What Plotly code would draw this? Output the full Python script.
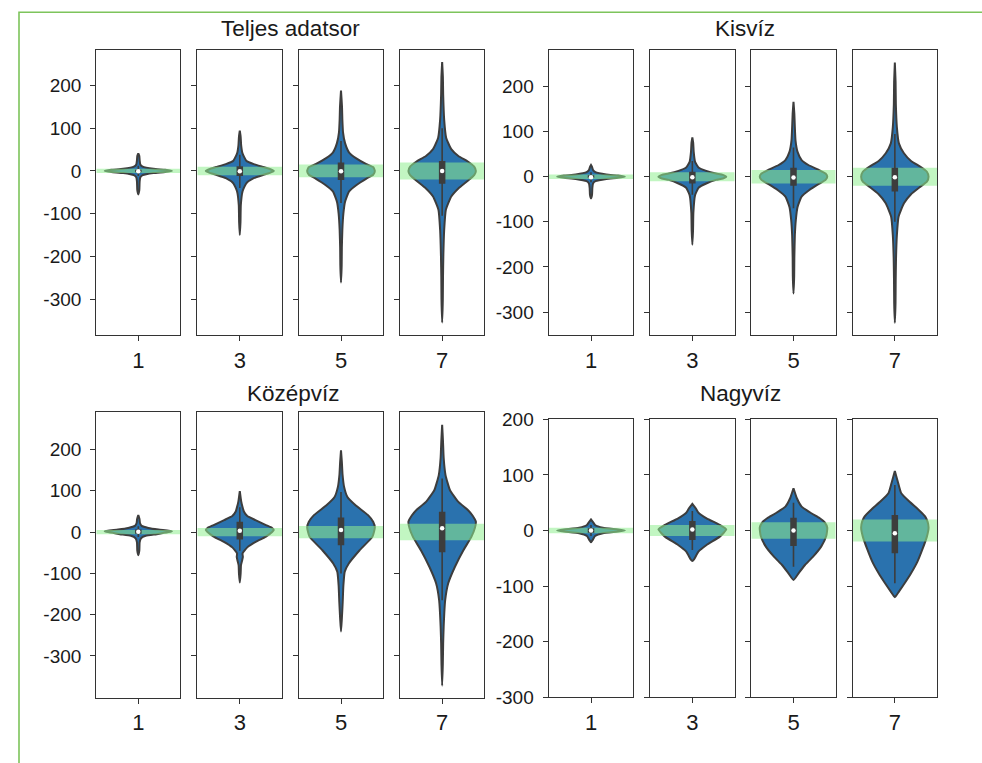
import plotly.graph_objects as go

# ---------------- data ----------------
horizons = [1, 3, 5, 7]
panel_titles = ["Teljes adatsor", "Kisvíz", "Középvíz", "Nagyvíz"]
band_half = [5, 10, 15, 20]          # half width of the green band per horizon
y_tickvals = [-300, -200, -100, 0, 100, 200]
y_ticktext = ["-300", "-200", "-100", "0", "100", "200"]

# violin profiles: y levels and relative half-widths (density), one list per horizon
teljes_y = [
    [-55, -45, -25, -15, -10, -5, -2.5, 0, 2.5, 5, 10, 15, 25, 35, 41],
    [-150, -120, -80, -48, -29, -17, -9, -4, 0, 4, 9, 16, 24, 41, 60, 80, 94],
    [-261, -220, -180, -138, -100, -72, -48, -33, -18, -9, 0, 9, 16, 30, 43, 65, 90, 120, 150, 188],
    [-355, -300, -250, -200, -138, -91, -60, -41, -23, -10, 0, 10, 22, 35, 51, 77, 120, 180, 220, 255],
]
teljes_w = [
    [0, 0.03, 0.04, 0.06, 0.13, 0.45, 0.8, 1.0, 0.8, 0.45, 0.13, 0.06, 0.04, 0.03, 0],
    [0, 0.02, 0.03, 0.08, 0.19, 0.41, 0.7, 0.9, 1.0, 0.9, 0.7, 0.41, 0.19, 0.08, 0.04, 0.025, 0],
    [0, 0.02, 0.025, 0.04, 0.07, 0.12, 0.24, 0.46, 0.75, 0.95, 1.0, 0.95, 0.75, 0.44, 0.24, 0.12, 0.06, 0.04, 0.03, 0],
    [0, 0.02, 0.025, 0.035, 0.06, 0.11, 0.27, 0.48, 0.76, 0.95, 1.0, 0.95, 0.76, 0.48, 0.27, 0.12, 0.06, 0.03, 0.022, 0],
]
teljes_box = [  # whisker low, q1, median, q3, whisker high
    [-12, -3, -1, 3, 12],
    [-40, -12, -1, 11, 38],
    [-75, -21, -1, 20, 70],
    [-105, -30, 0, 23, 100],
]

kisviz_y = [
    [-48, -40, -25, -15, -10, -5, -2.5, 0, 2.5, 5, 10, 15, 22, 26],
    [-151, -120, -80, -41, -24, -15, -7, -4, 0, 4, 7, 13, 20, 33, 55, 75, 87],
    [-259, -220, -180, -130, -95, -67, -44, -30, -16, -7, 0, 7, 15, 26, 37, 55, 80, 110, 140, 166],
    [-324, -280, -230, -180, -130, -89, -59, -39, -22, -11, 0, 11, 22, 35, 52, 74, 110, 160, 210, 253],
]
kisviz_w = [
    [0, 0.03, 0.04, 0.06, 0.13, 0.45, 0.8, 1.0, 0.8, 0.45, 0.13, 0.06, 0.03, 0],
    [0, 0.02, 0.03, 0.08, 0.19, 0.41, 0.7, 0.9, 1.0, 0.9, 0.7, 0.41, 0.19, 0.08, 0.04, 0.025, 0],
    [0, 0.02, 0.025, 0.04, 0.07, 0.12, 0.24, 0.46, 0.75, 0.95, 1.0, 0.95, 0.75, 0.44, 0.24, 0.12, 0.06, 0.04, 0.025, 0],
    [0, 0.02, 0.025, 0.035, 0.06, 0.11, 0.27, 0.48, 0.76, 0.95, 1.0, 0.95, 0.76, 0.48, 0.27, 0.12, 0.06, 0.03, 0.022, 0],
]
kisviz_box = [
    [-12, -3, -1, 3, 10],
    [-40, -15, -1, 11, 35],
    [-70, -20, -2, 20, 65],
    [-100, -33, -1, 20, 95],
]

kozepviz_y = [
    [-56, -45, -25, -15, -9, -5, 0, 2, 6, 10, 15, 22, 32, 41],
    [-122, -100, -80, -68, -60, -52, -37, -23, -11, 0, 5, 10, 17, 29, 39, 50, 61, 75, 99],
    [-241, -210, -170, -130, -96, -76, -44, -11, 11, 25, 41, 65, 85, 110, 140, 170, 198],
    [-372, -320, -270, -229, -165, -124, -84, -44, -11, 10, 25, 40, 53, 73, 102, 138, 180, 220, 260],
]
kozepviz_w = [
    [0, 0.03, 0.04, 0.08, 0.22, 0.55, 0.9, 1.0, 0.6, 0.3, 0.1, 0.05, 0.035, 0],
    [0, 0.025, 0.035, 0.07, 0.09, 0.08, 0.22, 0.48, 0.77, 0.95, 1.0, 0.95, 0.77, 0.46, 0.22, 0.12, 0.08, 0.04, 0],
    [0, 0.025, 0.05, 0.07, 0.11, 0.23, 0.55, 0.93, 1.0, 0.95, 0.8, 0.43, 0.19, 0.09, 0.045, 0.025, 0],
    [0, 0.02, 0.03, 0.045, 0.09, 0.18, 0.38, 0.63, 0.87, 0.97, 1.0, 0.9, 0.77, 0.48, 0.23, 0.1, 0.045, 0.025, 0],
]
kozepviz_box = [
    [-12, -4, 1, 6, 14],
    [-45, -18, 3, 25, 60],
    [-100, -32, 5, 35, 97],
    [-165, -49, 9, 49, 130],
]

nagyviz_y = [
    [-21, -16, -10, -5, -2, 0, 2, 5, 10, 15, 20],
    [-55, -52, -38, -26, -11, 2, 10, 22, 32, 40, 48],
    [-89, -77, -62, -47, -29, -10, 5, 15, 22, 31, 43, 58, 76],
    [-120, -110, -95, -77, -56, -35, -11, 5, 16, 25, 37, 52, 67, 85, 107],
]
nagyviz_w = [
    [0, 0.06, 0.12, 0.35, 0.8, 1.0, 0.8, 0.35, 0.12, 0.06, 0],
    [0, 0.05, 0.18, 0.42, 0.81, 1.0, 0.81, 0.42, 0.18, 0.1, 0],
    [0, 0.15, 0.34, 0.58, 0.82, 0.97, 1.0, 0.92, 0.78, 0.53, 0.24, 0.1, 0],
    [0, 0.12, 0.29, 0.48, 0.67, 0.81, 0.95, 1.0, 0.97, 0.9, 0.71, 0.43, 0.19, 0.1, 0],
]
nagyviz_box = [
    [-10, -4, 0, 4, 10],
    [-35, -17, 2, 17, 35],
    [-65, -28, 0, 23, 50],
    [-95, -41, -5, 28, 82],
]

profiles = [
    (teljes_y, teljes_w, teljes_box),
    (kisviz_y, kisviz_w, kisviz_box),
    (kozepviz_y, kozepviz_w, kozepviz_box),
    (nagyviz_y, nagyviz_w, nagyviz_box),
]

# ---------------- layout / style ----------------
W, H = 982, 763
FONT = "Liberation Sans, Arial, sans-serif"
TXT = "#1a1a1a"
DARK = "#3d3d3d"
AXC = "#333333"
BLUE = "#2a72ae"
BAND = "rgba(144,238,144,0.55)"
HALF = 0.40

cols_left = [[96.3, 180.3], [197.3, 282.3], [298.7, 383.3], [400, 484.3]]
cols_right = [[548.7, 633.3], [650, 734.7], [751.3, 835.7], [852.7, 937]]
panel_cols = [cols_left, cols_right, cols_left, cols_right]
panel_rows = [[50, 335], [50, 335], [412.3, 697.7], [419.3, 697.3]]
panel_ranges = [[-384, 283], [-351, 281], [-401, 290], [-300, 200]]
title_pos = [(290, 28), (745, 28), (293, 393), (740, 393)]

fig = go.Figure()
layout = {}

for p in range(4):
    ys, ws, boxes = profiles[p]
    for k in range(4):
        i = p * 4 + k
        n = "" if i == 0 else str(i + 1)
        xa, ya = "x" + n, "y" + n
        yy, ww = ys[k], ws[k]
        px = [w * HALF for w in ww] + [-w * HALF for w in ww[::-1]]
        py = list(yy) + list(yy[::-1])
        fig.add_trace(go.Scatter(
            x=px, y=py, xaxis=xa, yaxis=ya, mode="lines", fill="toself",
            fillcolor=BLUE, line=dict(color=DARK, width=2.0, shape="spline", smoothing=0.45),
            hoverinfo="skip", showlegend=False))
        b = band_half[k]
        fig.add_trace(go.Scatter(
            x=[-0.5, 0.5, 0.5, -0.5, -0.5], y=[-b, -b, b, b, -b], xaxis=xa, yaxis=ya,
            mode="none", fill="toself", fillcolor=BAND, hoverinfo="skip", showlegend=False))
        wl, q1, med, q3, wh = boxes[k]
        fig.add_trace(go.Scatter(
            x=[0, 0], y=[wl, wh], xaxis=xa, yaxis=ya, mode="lines",
            line=dict(color=DARK, width=1.6), hoverinfo="skip", showlegend=False))
        fig.add_trace(go.Scatter(
            x=[0, 0], y=[q1, q3], xaxis=xa, yaxis=ya, mode="lines",
            line=dict(color=DARK, width=6.5), hoverinfo="skip", showlegend=False))
        fig.add_trace(go.Scatter(
            x=[0], y=[med], xaxis=xa, yaxis=ya, mode="markers",
            marker=dict(color="white", size=4.5, line=dict(width=0)),
            hoverinfo="skip", showlegend=False))

        x0, x1 = panel_cols[p][k]
        y0, y1 = panel_rows[p]
        layout["xaxis" + n] = dict(
            domain=[x0 / W, x1 / W], anchor=ya, range=[-0.5, 0.5], automargin=False,
            tickmode="array", tickvals=[0], ticktext=[str(horizons[k])],
            ticks="outside", ticklen=5, tickwidth=1.2, tickcolor=AXC,
            showline=True, linewidth=1.3, linecolor=AXC, mirror=True,
            showgrid=False, zeroline=False, fixedrange=True,
            tickfont=dict(family=FONT, size=22, color=TXT))
        layout["yaxis" + n] = dict(
            domain=[1 - y1 / H, 1 - y0 / H], anchor=xa, range=panel_ranges[p], automargin=False,
            tickmode="array", tickvals=y_tickvals, ticktext=y_ticktext,
            showticklabels=(k == 0), ticklabelstandoff=5,
            ticks="outside", ticklen=5, tickwidth=1.2, tickcolor=AXC,
            showline=True, linewidth=1.3, linecolor=AXC, mirror=True,
            showgrid=False, zeroline=False, fixedrange=True,
            tickfont=dict(family=FONT, size=19, color=TXT))

annotations = []
for p in range(4):
    cx, cy = title_pos[p]
    annotations.append(dict(
        text=panel_titles[p], x=cx / W, y=1 - cy / H, xref="paper", yref="paper",
        xanchor="center", yanchor="middle", showarrow=False,
        font=dict(family=FONT, size=22.5, color=TXT)))

shapes = [dict(type="rect", xref="paper", yref="paper",
               x0=19 / W, x1=1.05, y0=-0.05, y1=1 - 12.3 / H,
               line=dict(color="#7dc45b", width=1.6), fillcolor="rgba(0,0,0,0)")]

fig.update_layout(
    width=W, height=H, autosize=False,
    margin=dict(l=0, r=0, t=0, b=0, pad=0, autoexpand=False),
    paper_bgcolor="white", plot_bgcolor="white",
    font=dict(family=FONT, color=TXT),
    annotations=annotations, shapes=shapes, showlegend=False,
    **layout)

post = (
    "document.documentElement.style.margin='0';"
    "document.documentElement.style.overflow='hidden';"
    "document.body.style.margin='0';document.body.style.padding='0';"
    "document.body.style.overflow='hidden';"
    "var gd=document.querySelector('.plotly-graph-div');"
    "if(gd){gd.style.position='fixed';gd.style.top='0px';gd.style.left='0px';}"
)
fig.write_html("out.html", config={"displayModeBar": False}, post_script=post)
